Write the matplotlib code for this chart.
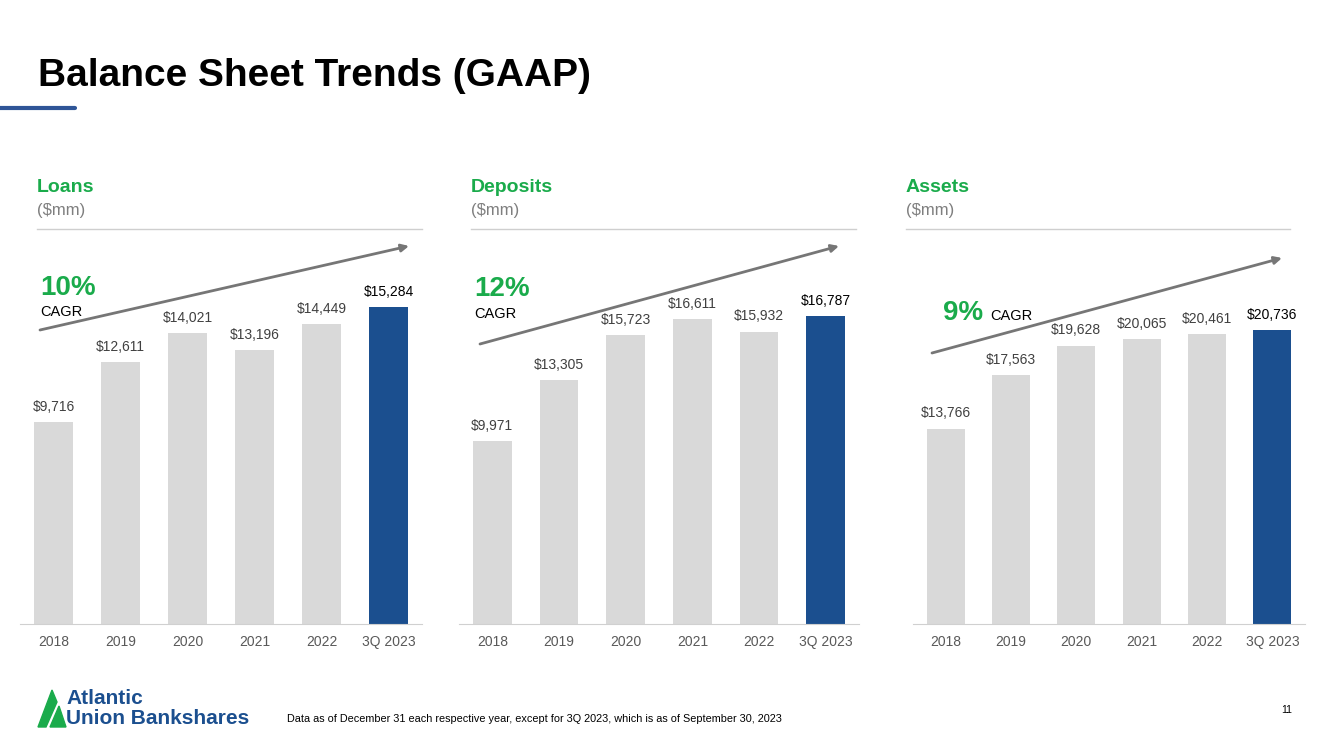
import matplotlib.pyplot as plt
from matplotlib.patches import Polygon

plt.rcParams['font.family'] = ['Liberation Sans', 'DejaVu Sans']

# data
years = ['2018', '2019', '2020', '2021', '2022', '3Q 2023']
loans = [9716, 12611, 14021, 13196, 14449, 15284]
deposits = [9971, 13305, 15723, 16611, 15932, 16787]
assets = [13766, 17563, 19628, 20065, 20461, 20736]
titles = ['Loans', 'Deposits', 'Assets']
cagr = ['10%', '12%', '9%']

W, H = 1333, 749
GREEN = '#1aab4b'
BLUE = '#1b4f8f'
GREY_BAR = '#d9d9d9'

fig = plt.figure(figsize=(W / 100, H / 100), dpi=100)


def px_axes(x0, x1, ytop, ybot):
    return fig.add_axes([x0 / W, (H - ybot) / H, (x1 - x0) / W, (ybot - ytop) / H])


# panel layout: (x0, x1, ymax)
panels = [(20, 422, 17550), (459, 859, 19837), (913, 1305, 25670)]
series = [loans, deposits, assets]

for (x0, x1, ymax), vals in zip(panels, series):
    ax = px_axes(x0, x1, 260, 624)
    colors = [GREY_BAR] * (len(vals) - 1) + [BLUE]
    ax.bar(range(len(vals)), vals, width=0.58, color=colors)
    for i, v in enumerate(vals):
        ax.annotate(f'${v:,}', (i, v), xytext=(0, 6), textcoords='offset points',
                    ha='center', va='bottom', fontsize=10,
                    color='black' if i == len(vals) - 1 else '#404040')
    ax.set_xlim(-0.5, len(vals) - 0.5)
    ax.set_ylim(0, ymax)
    ax.set_xticks(range(len(vals)))
    ax.set_xticklabels(years, fontsize=10, color='#595959')
    ax.tick_params(axis='x', length=0, pad=8)
    ax.set_yticks([])
    for s in ['top', 'left', 'right']:
        ax.spines[s].set_visible(False)
    ax.spines['bottom'].set_color('#d0d0d0')
    ax.patch.set_alpha(0)

# overlay in pixel coordinates for decorations
ov = fig.add_axes([0, 0, 1, 1], zorder=5)
ov.set_xlim(0, W)
ov.set_ylim(H, 0)
ov.axis('off')
ov.patch.set_alpha(0)

ov.text(38, 76, 'Balance Sheet Trends (GAAP)', fontsize=28, fontweight='bold',
        va='center', ha='left', color='black')
ov.plot([0, 75], [108, 108], color='#2f5597', lw=3, solid_capstyle='round')

head_x = [(37, 422), (471, 856), (906, 1290)]
for (hx0, hx1), t in zip(head_x, titles):
    ov.text(hx0, 188, t, fontsize=14, fontweight='bold', color=GREEN, va='center')
    ov.text(hx0, 211, '($mm)', fontsize=12, color='#7f7f7f', va='center')
    ov.plot([hx0, hx1], [229, 229], color='#cfcfcf', lw=1)

# CAGR labels and arrows
ov.text(40, 288, cagr[0], fontsize=20, fontweight='bold', color=GREEN, va='center')
ov.text(40, 312, 'CAGR', fontsize=10.5, color='black', va='center')
ov.text(474, 289, cagr[1], fontsize=20, fontweight='bold', color=GREEN, va='center')
ov.text(474, 314, 'CAGR', fontsize=10.5, color='black', va='center')
ov.text(943, 313, cagr[2], fontsize=20, fontweight='bold', color=GREEN, va='center')
ov.text(990, 316, 'CAGR', fontsize=10.5, color='black', va='center')

arrows = [((40, 330), (409, 246)), ((480, 344), (839, 246)), ((932, 353), (1282, 258))]
for start, end in arrows:
    ov.annotate('', xy=end, xytext=start,
                arrowprops=dict(arrowstyle='-|>', color='#767676', lw=2,
                                mutation_scale=11, shrinkA=0, shrinkB=0))

# logo
ov.add_patch(Polygon([(38, 727), (52, 690), (57, 702), (46, 727)], closed=True, color=GREEN))
ov.add_patch(Polygon([(50, 727), (59, 706), (66, 727)], closed=True, color=GREEN))
ov.text(66, 699, 'Atlantic', fontsize=15, fontweight='heavy', color=BLUE, va='center')
ov.text(66, 718, 'Union Bankshares', fontsize=15, fontweight='heavy', color=BLUE, va='center')

ov.text(287, 719, 'Data as of December 31 each respective year, except for 3Q 2023, '
        'which is as of September 30, 2023', fontsize=7.8, color='black', va='center')
ov.text(1292, 710, '11', fontsize=7.5, color='black', va='center', ha='right')

fig.savefig('out.png', dpi=100)
